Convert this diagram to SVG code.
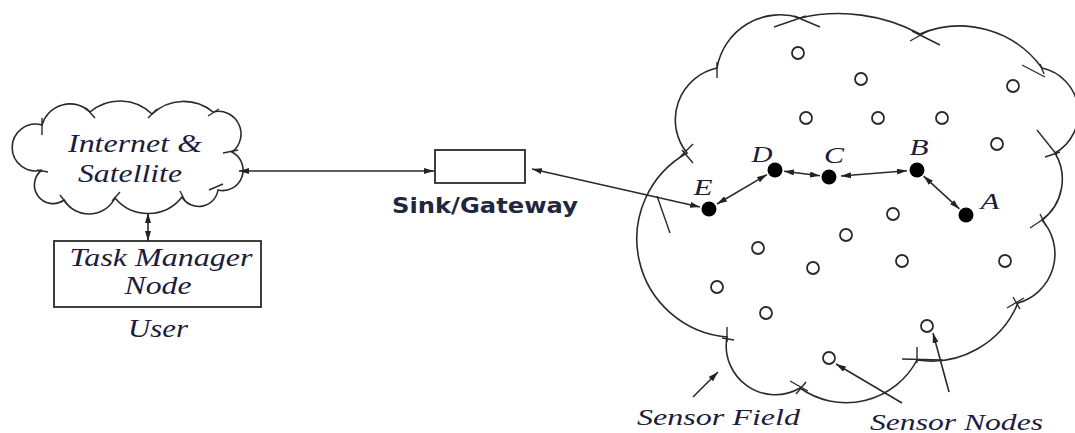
<svg xmlns="http://www.w3.org/2000/svg" width="1075" height="433" viewBox="0 0 1075 433">
<defs>
<marker id="ah" viewBox="0 0 10 6" refX="10" refY="3" markerWidth="10" markerHeight="6" markerUnits="userSpaceOnUse" orient="auto-start-reverse">
<path d="M0,0 L10,3 L0,6 z" fill="#222"/>
</marker>
<style>
.cl{fill:#fff;stroke:#2a2a2a;stroke-width:1.6}
.tk{stroke:#2a2a2a;stroke-width:1.4}
.ar{fill:none;stroke:#2a2a2a;stroke-width:1.6;marker-start:url(#ah);marker-end:url(#ah)}
.ar1{fill:none;stroke:#2a2a2a;stroke-width:1.6;marker-end:url(#ah)}
.sn{fill:#fff;stroke:#2a2a2a;stroke-width:1.8}
.fn{fill:#000}
</style>
</defs>
<rect width="1075" height="433" fill="#fff"/>

<g id="sensor-field">
<path class="cl" d="M717,68 A64 64 0 0 1 800,18 A172 172 0 0 1 920,34 A102 102 0 0 1 1042,68 A46 46 0 0 1 1055,153 A51 51 0 0 1 1042,220 A51 51 0 0 1 1018,303 A94 94 0 0 1 917,360 A80 80 0 0 1 800,388 A49 49 0 0 1 727,337 A98.5 98.5 0 0 1 687,153 A53 53 0 0 1 717,68 Z"/>
<g class="tk">
<line x1="717" y1="62" x2="717" y2="78"/>
<line x1="774" y1="27" x2="806" y2="16"/>
<line x1="794" y1="16" x2="820" y2="27"/>
<line x1="910" y1="41" x2="928" y2="31"/>
<line x1="912" y1="31" x2="940" y2="45"/>
<line x1="1022" y1="65" x2="1045" y2="77"/>
<line x1="1040" y1="64" x2="1044" y2="74"/>
<line x1="1037" y1="130" x2="1057" y2="155"/>
<line x1="1045" y1="157" x2="1060" y2="152"/>
<line x1="1030" y1="228" x2="1045" y2="218"/>
<line x1="1040" y1="214" x2="1046" y2="226"/>
<line x1="1007" y1="308" x2="1024" y2="298"/>
<line x1="1013" y1="297" x2="1020" y2="309"/>
<line x1="902" y1="359" x2="943" y2="360"/>
<line x1="917" y1="347" x2="917" y2="363"/>
<line x1="790" y1="381" x2="808" y2="391"/>
<line x1="796" y1="394" x2="806" y2="382"/>
<line x1="727" y1="327" x2="727" y2="342"/>
<line x1="722" y1="338" x2="734" y2="340"/>
<line x1="657" y1="196" x2="670" y2="233"/>
<line x1="682" y1="150" x2="693" y2="163"/>
<line x1="680" y1="157" x2="693" y2="144"/>
</g>
</g>

<g id="internet-cloud">
<path class="cl" d="M42,125 A29 29 0 0 1 90,112 A46 46 0 0 1 152,114 A46 46 0 0 1 213,112 A22.6 22.6 0 0 1 232,152 A20.4 20.4 0 0 1 218,190 A19.5 19.5 0 0 1 182,197 A43 43 0 0 1 115,198 A29.2 29.2 0 0 1 64,200 A18.6 18.6 0 0 1 42,170 A23.4 23.4 0 1 1 42,125 Z"/>
<g class="tk">
<line x1="42" y1="118" x2="42" y2="135"/>
<line x1="86" y1="108" x2="95" y2="118"/>
<line x1="148" y1="118" x2="157" y2="109"/>
<line x1="208" y1="116" x2="219" y2="109"/>
<line x1="223" y1="153" x2="238" y2="150"/>
<line x1="209" y1="190" x2="223" y2="184"/>
<line x1="180" y1="191" x2="185" y2="201"/>
<line x1="112" y1="201" x2="120" y2="192"/>
<line x1="60" y1="195" x2="67" y2="204"/>
<line x1="37" y1="170" x2="48" y2="172"/>
</g>
<text font-family="Liberation Serif, serif" font-style="italic" fill="#1c1c3c" x="135" y="152" font-size="25" text-anchor="middle" textLength="134" lengthAdjust="spacingAndGlyphs">Internet &amp;</text>
<text font-family="Liberation Serif, serif" font-style="italic" fill="#1c1c3c" x="130" y="182" font-size="25" text-anchor="middle" textLength="104" lengthAdjust="spacingAndGlyphs">Satellite</text>
</g>

<g id="task-manager">
<rect x="54" y="241" width="207" height="66" fill="#fff" stroke="#2a2a2a" stroke-width="1.8"/>
<text font-family="Liberation Serif, serif" font-style="italic" fill="#1c1c3c" x="161" y="266" font-size="25" text-anchor="middle" textLength="183" lengthAdjust="spacingAndGlyphs">Task Manager</text>
<text font-family="Liberation Serif, serif" font-style="italic" fill="#1c1c3c" x="158" y="294" font-size="25" text-anchor="middle" textLength="67" lengthAdjust="spacingAndGlyphs">Node</text>
</g>

<g id="user-label">
<text font-family="Liberation Serif, serif" font-style="italic" fill="#1c1c3c" x="158" y="337" font-size="25" text-anchor="middle" textLength="60" lengthAdjust="spacingAndGlyphs">User</text>
</g>

<g id="sink-gateway">
<rect x="435" y="150" width="90" height="33" fill="#fff" stroke="#2a2a2a" stroke-width="1.8"/>
<text x="485" y="213" font-family="DejaVu Sans, Verdana, sans-serif" font-weight="bold" font-size="21" fill="#1f2740" text-anchor="middle" textLength="186" lengthAdjust="spacingAndGlyphs">Sink/Gateway</text>
</g>

<g id="sensor-nodes">
<g id="sn1"><circle class="sn" cx="798" cy="53" r="6"/></g>
<g id="sn2"><circle class="sn" cx="861" cy="79" r="6"/></g>
<g id="sn3"><circle class="sn" cx="1013" cy="86" r="6"/></g>
<g id="sn4"><circle class="sn" cx="806" cy="118" r="6"/></g>
<g id="sn5"><circle class="sn" cx="878" cy="118" r="6"/></g>
<g id="sn6"><circle class="sn" cx="942" cy="118" r="6"/></g>
<g id="sn7"><circle class="sn" cx="997" cy="144" r="6"/></g>
<g id="sn8"><circle class="sn" cx="893" cy="214" r="6"/></g>
<g id="sn9"><circle class="sn" cx="846" cy="235" r="6"/></g>
<g id="sn10"><circle class="sn" cx="758" cy="248" r="6"/></g>
<g id="sn11"><circle class="sn" cx="813" cy="268" r="6"/></g>
<g id="sn12"><circle class="sn" cx="902" cy="261" r="6"/></g>
<g id="sn13"><circle class="sn" cx="1005" cy="261" r="6"/></g>
<g id="sn14"><circle class="sn" cx="717" cy="287" r="6"/></g>
<g id="sn15"><circle class="sn" cx="766" cy="313" r="6"/></g>
<g id="sn16"><circle class="sn" cx="927" cy="326" r="6"/></g>
<g id="sn17"><circle class="sn" cx="829" cy="358" r="6"/></g>
</g>

<g id="node-E"><circle class="fn" cx="709" cy="209" r="7.5"/><text font-family="Liberation Serif, serif" font-style="italic" fill="#1c1c3c" x="703" y="195" font-size="23" text-anchor="middle" textLength="19" lengthAdjust="spacingAndGlyphs">E</text></g>
<g id="node-D"><circle class="fn" cx="775" cy="170" r="7.5"/><text font-family="Liberation Serif, serif" font-style="italic" fill="#1c1c3c" x="762" y="162" font-size="23" text-anchor="middle" textLength="21" lengthAdjust="spacingAndGlyphs">D</text></g>
<g id="node-C"><circle class="fn" cx="829" cy="177" r="7.5"/><text font-family="Liberation Serif, serif" font-style="italic" fill="#1c1c3c" x="834" y="163" font-size="23" text-anchor="middle" textLength="20" lengthAdjust="spacingAndGlyphs">C</text></g>
<g id="node-B"><circle class="fn" cx="917" cy="170" r="7.5"/><text font-family="Liberation Serif, serif" font-style="italic" fill="#1c1c3c" x="919" y="155" font-size="23" text-anchor="middle" textLength="19" lengthAdjust="spacingAndGlyphs">B</text></g>
<g id="node-A"><circle class="fn" cx="966" cy="215" r="7.5"/><text font-family="Liberation Serif, serif" font-style="italic" fill="#1c1c3c" x="990" y="209" font-size="23" text-anchor="middle" textLength="19" lengthAdjust="spacingAndGlyphs">A</text></g>

<g id="connectors">
<line class="ar" x1="148" y1="213" x2="148" y2="241"/>
<line class="ar" x1="239" y1="171" x2="434" y2="171"/>
<line class="ar" x1="532" y1="169" x2="700" y2="207"/>
<line class="ar" x1="717" y1="204" x2="767" y2="174.6"/>
<line class="ar" x1="784" y1="171.2" x2="820" y2="175.8"/>
<line class="ar" x1="841" y1="176" x2="907" y2="170.8"/>
<line class="ar" x1="923.6" y1="176.1" x2="959.4" y2="208.9"/>
<line class="ar1" x1="693" y1="397" x2="718" y2="372"/>
<line class="ar1" x1="902" y1="403" x2="836" y2="364"/>
<line class="ar1" x1="949" y1="392" x2="933" y2="333"/>
</g>

<g id="labels">
<text font-family="Liberation Serif, serif" font-style="italic" fill="#1c1c3c" x="637" y="425" font-size="24" textLength="163" lengthAdjust="spacingAndGlyphs">Sensor Field</text>
<text font-family="Liberation Serif, serif" font-style="italic" fill="#1c1c3c" x="870" y="430" font-size="24" textLength="173" lengthAdjust="spacingAndGlyphs">Sensor Nodes</text>
</g>
</svg>
